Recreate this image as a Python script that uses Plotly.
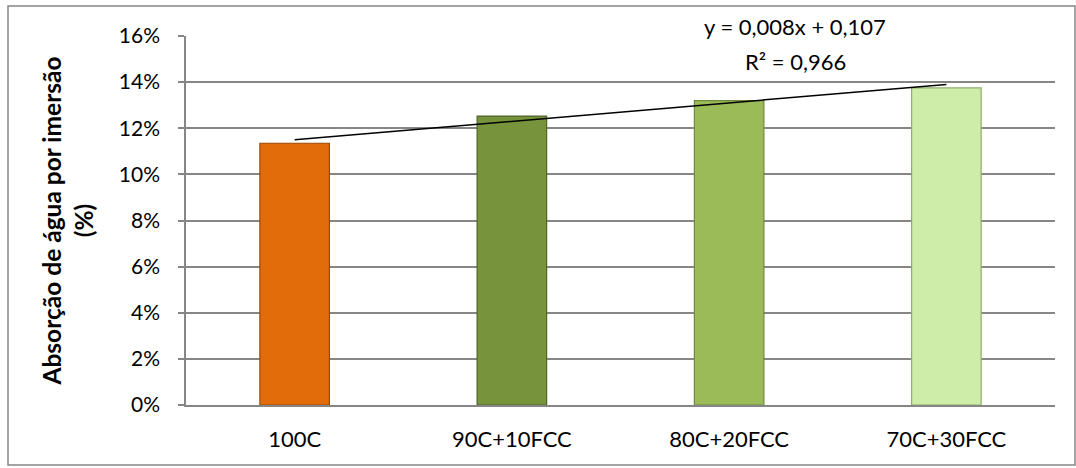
import plotly.graph_objects as go

categories = ["100C", "90C+10FCC", "80C+20FCC", "70C+30FCC"]
values = [0.1135, 0.1253, 0.1320, 0.1375]
bar_colors = ["#E36C0A", "#77933C", "#9BBB59", "#CDEDA8"]
edge_colors = ["#9A4A08", "#4F6228", "#6E8A3A", "#8FAE6A"]
trend_slope = 0.008
trend_intercept = 0.107
eq_text = "y = 0,008x + 0,107"
r2_text = "R² = 0,966"
y_title = "<b>Absorção de água por imersão<br>(%)</b>"

trend_y = [trend_slope * (i + 1) + trend_intercept for i in range(len(categories))]

font_family = "Lato, 'Open Sans', sans-serif"
W, H = 1076, 468
L, R, T, B = 186, 21, 36, 63
pw, ph = W - L - R, H - T - B


def px_x(x):
    return (x - L) / pw


def px_y(y):
    return 1 - (y - T) / ph


fig = go.Figure()
fig.add_trace(go.Bar(
    x=categories, y=values,
    marker=dict(color=bar_colors, line=dict(color=edge_colors, width=1.2)),
    width=0.32, showlegend=False, hoverinfo="skip",
))
fig.add_trace(go.Scatter(
    x=categories, y=trend_y, mode="lines",
    line=dict(color="black", width=1.5), showlegend=False, hoverinfo="skip",
))

fig.update_layout(
    width=W, height=H,
    margin=dict(l=L, r=R, t=T, b=B),
    paper_bgcolor="white", plot_bgcolor="white",
    font=dict(family=font_family, size=22, color="black"),
    xaxis=dict(
        type="category", range=[-0.5, 3.5],
        showline=True, linecolor="#868686", linewidth=1.5,
        ticks="", showgrid=False, tickfont=dict(size=22),
        ticklabelstandoff=14,
    ),
    yaxis=dict(
        range=[0, 0.16], dtick=0.02, tickformat=".0%",
        showline=True, linecolor="#868686", linewidth=1.5,
        ticks="outside", ticklen=6, tickcolor="#868686", tickwidth=1.5,
        showgrid=True, gridcolor="#868686", gridwidth=1.5,
        zeroline=False,
        title=dict(text=y_title, font=dict(size=24.5, family=font_family), standoff=18),
        tickfont=dict(size=21),
        ticklabelstandoff=14,
    ),
    annotations=[
        dict(text=eq_text, x=px_x(795), y=px_y(27), xref="paper", yref="paper",
             xanchor="center", yanchor="middle", showarrow=False, font=dict(size=22)),
        dict(text=r2_text, x=px_x(795), y=px_y(62), xref="paper", yref="paper",
             xanchor="center", yanchor="middle", showarrow=False, font=dict(size=22)),
    ],
)

# outer chart border
fig.add_shape(type="rect", xref="paper", yref="paper",
              x0=px_x(8), x1=px_x(1075),
              y0=px_y(465), y1=px_y(6),
              line=dict(color="#868686", width=1.5), layer="below")

fig.write_html("out.html", config={"displayModeBar": False},
               post_script="document.body.style.margin='0';")
